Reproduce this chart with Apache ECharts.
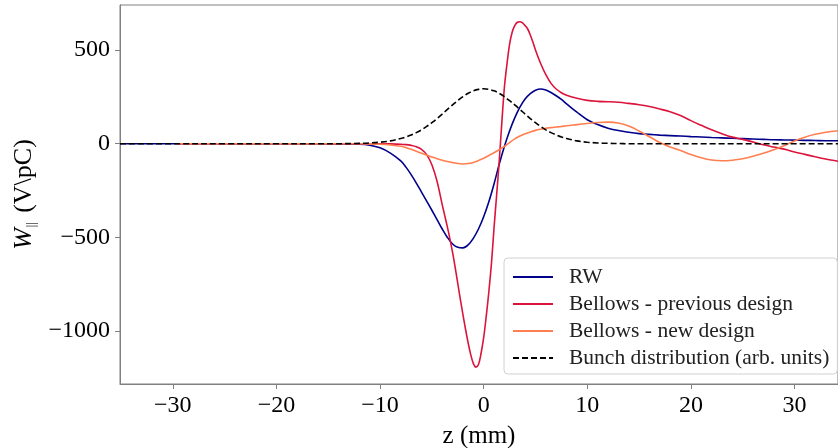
<!DOCTYPE html>
<html>
<head>
<meta charset="utf-8">
<script src="https://cdn.jsdelivr.net/npm/echarts@6/dist/echarts.min.js"></script>
<style>
  html, body { margin: 0; padding: 0; background: #fff; }
  #chart { width: 838px; height: 448px; }
</style>
</head>
<body>
<div id="chart"></div>
<script>
// z positions (mm) shared by RW, new bellows and bunch
const zs = [-35.1, -29.6, -25, -20, -16, -14,
  -12, -11, -10, -9, -8,
  -7.5, -7, -6.5, -6, -5.5, -5, -4.5, -4, -3.5, -3, -2.5, -2, -1.5, -1, -0.5, 0,
  0.5, 1, 1.5, 2, 2.5, 3, 3.5, 4, 4.5, 5, 5.5, 6, 6.5, 7, 7.5, 8,
  9, 10, 11, 12, 13, 14, 15, 16, 17, 18, 19, 20, 21, 22, 23, 24, 25, 26, 27, 28, 29, 30, 31, 32, 33, 34.2];

const rw = [0, 0, 0, 0, 0, -1,
  -3, -8, -22, -50, -92,
  -125, -165, -210, -258, -306, -355, -405, -455, -500, -535, -553, -556, -540, -505, -455, -390,
  -310, -215, -110, -15, 68, 138, 195, 238, 267, 285, 292, 286, 273, 256, 236, 213,
  168, 128, 102, 83, 70, 61, 54, 50, 46, 43, 41, 38, 36, 33, 31, 29, 27, 25, 23, 21, 20, 19, 18, 17, 16, 16];

const bellowsNew = [null, 0, 0, 0, 0, 0,
  0, -1, -3, -7, -14,
  -21, -29, -40, -51, -61, -71, -80, -88, -95, -101, -106, -108, -106, -100, -90, -78,
  -63, -48, -32, -15, 6, 26, 41, 53, 63, 71, 77, 82, 86, 89, 92, 96,
  102, 108, 113, 115, 110, 94, 68, 37, 6, -18, -36, -58, -75, -87, -91, -88, -80, -67, -51, -32, -11, 15, 35, 50, 61, 69];

const bunch = [0, 0, 0, 0, 0, 0,
  2, 4, 8, 15, 28,
  36, 47, 59, 74, 92, 112, 134, 158, 183, 207, 230, 251, 269, 282, 290, 293,
  290, 282, 269, 251, 230, 207, 183, 158, 134, 112, 92, 74, 59, 47, 36, 28,
  15, 8, 4, 2, 1, 0, 0, 0, 0, 0, 0, 0, 0, 0, 0, 0, 0, 0, 0, 0, 0, 0, 0, 0, 0, 0];

// finer z grid for the previous bellows design (sharp trough and peak)
const zsPrev = [-29.6, -25, -20, -16, -14, -12, -11, -10, -9, -8,
  -7.5, -7, -6.5, -6, -5.5, -5, -4.5,
  -4, -3.75, -3.5, -3.25, -3, -2.75, -2.5, -2.25, -2, -1.75, -1.5, -1.25, -1, -0.75, -0.5, -0.25, 0,
  0.25, 0.5, 0.75, 1, 1.25, 1.5, 1.75, 2, 2.25, 2.5, 2.75, 3, 3.25, 3.5, 3.75, 4, 4.25, 4.5, 4.75, 5,
  5.5, 6, 6.5, 7, 7.5, 8,
  9, 10, 11, 12, 13, 14, 15, 16, 17, 18, 19, 20, 21, 22, 23, 24, 25, 26, 27, 28, 29, 30, 31, 32, 33, 34.2];

const bellowsPrev = [0, 0, 0, 0, 0, 0, 0, 0, -1, -3,
  -5, -9, -16, -30, -58, -112, -200,
  -325, -385, -445, -510, -580, -660, -745, -830, -912, -990, -1062, -1125, -1172, -1192, -1178, -1118, -1035,
  -920, -790, -640, -450, -275, -95, 110, 300, 425, 530, 595, 630, 648, 651, 645, 630, 612, 580, 542, 500,
  428, 368, 322, 292, 272, 258,
  242, 231, 226, 224, 221, 215, 208, 198, 185, 170, 150, 123, 98, 74, 53, 35, 23, 9, -6, -18, -29, -44, -57, -70, -82, -94];

const xTicks = [-30, -20, -10, 0, 10, 20, 30];
const yTicks = [-1000, -500, 0, 500];

const seriesNames = ['RW', 'Bellows - previous design', 'Bellows - new design', 'Bunch distribution (arb. units)'];

function pairs(xs, vals) { return xs.map((z, i) => [z, vals[i]]); }
const fmt = v => String(v).replace('-', '\u2212');
const FONT = 'Liberation Serif';
const AX = '#808080';
const SM = 0.35;

const chart = echarts.init(document.getElementById('chart'), null, { renderer: 'canvas' });
chart.setOption({
  animation: false,
  backgroundColor: '#fff',
  grid: { left: 120, right: 0, top: 5, bottom: 64, show: true, borderColor: AX, borderWidth: 1,
          containLabel: false, outerBoundsMode: 'none' },
  xAxis: {
    type: 'value', min: -35.1, max: 34.2,
    name: 'z (mm)', nameLocation: 'middle', nameGap: 40,
    nameTextStyle: { fontFamily: FONT, fontSize: 25, color: '#000' },
    axisLine: { show: true, onZero: false, lineStyle: { color: AX } },
    axisTick: { show: true, length: 5, lineStyle: { color: AX }, customValues: xTicks },
    axisLabel: { fontFamily: FONT, fontSize: 24, color: '#000', margin: 10, customValues: xTicks, formatter: fmt },
    splitLine: { show: false }
  },
  yAxis: {
    type: 'value', min: -1282, max: 740,
    name: '{i|W}{s|||} (V\\pC)', nameLocation: 'middle', nameGap: 82,
    nameTextStyle: {
      fontFamily: FONT, fontSize: 26, color: '#000',
      rich: {
        i: { fontFamily: FONT, fontSize: 26, fontStyle: 'italic', color: '#000' },
        s: { fontFamily: FONT, fontSize: 12, color: '#000', verticalAlign: 'bottom', padding: [12, 3, 0, 1] }
      }
    },
    axisLine: { show: true, onZero: false, lineStyle: { color: AX } },
    axisTick: { show: true, length: 5, lineStyle: { color: AX }, customValues: yTicks },
    axisLabel: { fontFamily: FONT, fontSize: 24, color: '#000', margin: 10, customValues: yTicks, formatter: fmt },
    splitLine: { show: false }
  },
  legend: {
    orient: 'vertical', left: 504, top: 258,
    padding: [8, 8, 5, 8],
    itemWidth: 40, itemHeight: 14, itemGap: 5,
    backgroundColor: 'rgba(255,255,255,0.85)',
    borderColor: '#d0d0d0', borderWidth: 1, borderRadius: 4,
    itemStyle: { opacity: 0 },
    textStyle: { fontFamily: FONT, fontSize: 21.5, color: '#222', lineHeight: 21, padding: [0, 0, 0, 11] },
    data: seriesNames
  },
  series: [
    { name: seriesNames[0], type: 'line', data: pairs(zs, rw), symbol: 'none', smooth: SM, lineStyle: { color: '#00008b', width: 1.6 }, itemStyle: { color: '#00008b' }, z: 2 },
    { name: seriesNames[1], type: 'line', data: pairs(zsPrev, bellowsPrev), symbol: 'none', smooth: SM, lineStyle: { color: '#dc143c', width: 1.6 }, itemStyle: { color: '#dc143c' }, z: 3 },
    { name: seriesNames[2], type: 'line', data: pairs(zs, bellowsNew), symbol: 'none', smooth: SM, lineStyle: { color: '#ff7f50', width: 1.6 }, itemStyle: { color: '#ff7f50' }, z: 4 },
    { name: seriesNames[3], type: 'line', data: pairs(zs, bunch), symbol: 'none', smooth: SM, lineStyle: { color: '#000', width: 1.6, type: [6, 3] }, itemStyle: { color: '#000' }, z: 5 }
  ]
});
</script>
</body>
</html>
